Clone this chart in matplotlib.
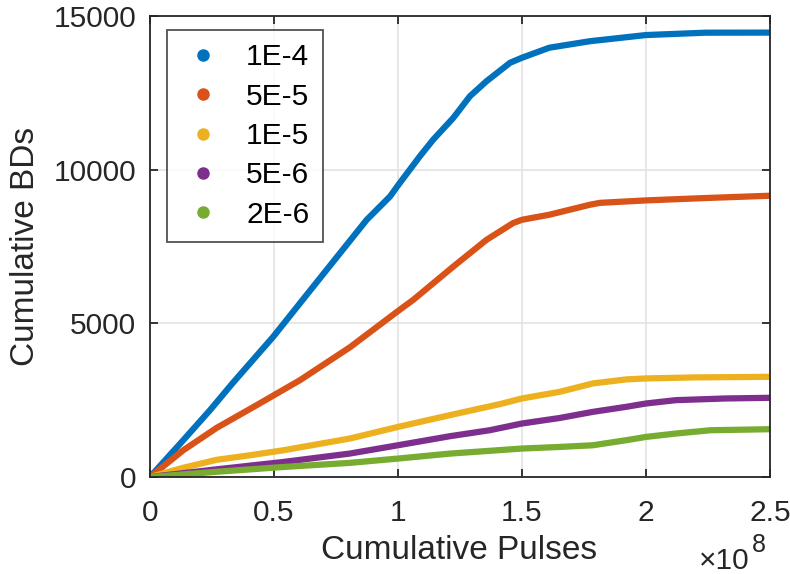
import matplotlib.pyplot as plt
import numpy as np
from matplotlib.lines import Line2D
from matplotlib.ticker import FuncFormatter

plt.rcParams['font.family'] = ['Liberation Sans', 'DejaVu Sans']

# cumulative pulses (x 1e8) and cumulative BDs
labels = ["1E-4", "5E-5", "1E-5", "5E-6", "2E-6"]
colors = ["#0072BD", "#D95319", "#EDB120", "#7E2F8E", "#77AC30"]

x_1e4 = [0, 0.134, 0.242, 0.336, 0.497, 0.632, 0.739, 0.874, 0.968, 1.007, 1.088, 1.142,
         1.223, 1.29, 1.357, 1.452, 1.5, 1.61, 1.774, 2.0, 2.24, 2.5]
y_1e4 = [0, 1196, 2175, 3080, 4565, 5930, 7010, 8370, 9130, 9565, 10434, 10978,
         11685, 12390, 12879, 13479, 13642, 13968, 14180, 14380, 14457, 14460]

x_5e5 = [0, 0.134, 0.269, 0.43, 0.605, 0.806, 1.0, 1.061, 1.223, 1.357, 1.464, 1.5,
         1.61, 1.774, 1.814, 2.0, 2.24, 2.5]
y_5e5 = [0, 870, 1600, 2337, 3152, 4220, 5400, 5761, 6847, 7718, 8262, 8370,
         8533, 8859, 8920, 9000, 9077, 9152]

x_1e5 = [0, 0.134, 0.269, 0.403, 0.538, 0.806, 1.0, 1.209, 1.41, 1.5, 1.652, 1.786,
         1.92, 2.0, 2.19, 2.5]
y_1e5 = [0, 300, 560, 707, 870, 1252, 1630, 2012, 2370, 2556, 2771, 3045,
         3175, 3207, 3240, 3260]

x_5e6 = [0, 0.269, 0.538, 0.806, 1.0, 1.209, 1.37, 1.5, 1.652, 1.786, 1.92, 2.0,
         2.12, 2.32, 2.5]
y_5e6 = [0, 250, 489, 763, 1033, 1327, 1522, 1741, 1920, 2120, 2283, 2392,
         2500, 2555, 2577]

x_2e6 = [0, 0.269, 0.538, 0.806, 1.0, 1.209, 1.5, 1.652, 1.786, 1.92, 2.0, 2.12,
         2.26, 2.5]
y_2e6 = [0, 170, 326, 460, 600, 761, 926, 978, 1033, 1197, 1304, 1414,
         1522, 1555]

xs = [x_1e4, x_5e5, x_1e5, x_5e6, x_2e6]
ys = [y_1e4, y_5e5, y_1e5, y_5e6, y_2e6]

fig = plt.figure(figsize=(7.9, 5.74), dpi=100)
# axes box: x 150..770 px, y 16..477 px
ax = fig.add_axes([150 / 790, (574 - 477) / 574, 620 / 790, 461 / 574])

for x, y, c in zip(xs, ys, colors):
    ax.plot(np.array(x) * 1e8, y, color=c, lw=4.5, solid_capstyle='round',
            solid_joinstyle='round')

ax.set_xlim(0, 2.5e8)
ax.set_ylim(0, 15000)
ax.set_xticks(np.arange(0, 2.51e8, 0.5e8))
ax.set_yticks([0, 5000, 10000, 15000])
ax.xaxis.set_major_formatter(FuncFormatter(lambda v, p: f"{v / 1e8:g}"))
ax.grid(True, color='#e3e3e3', lw=1.2)
ax.set_axisbelow(True)

dark = '#262626'
for s in ax.spines.values():
    s.set_color(dark)
    s.set_linewidth(1.3)
ax.tick_params(direction='in', length=6, width=1.3, colors=dark, labelsize=21.5,
               top=True, right=True)
ax.tick_params(axis='x', pad=16)
ax.tick_params(axis='y', pad=10)

ax.set_xlabel("Cumulative Pulses", fontsize=24, color=dark)
ax.set_ylabel("Cumulative BDs", fontsize=24, color=dark)
ax.xaxis.set_label_coords(0.498, -0.125)
ax.yaxis.set_label_coords(-0.175, 0.5)

# MATLAB-style exponent label at bottom right
fig.text(750 / 790, 5 / 574, "\u00d710", ha='right', va='baseline',
         fontsize=21.5, color=dark)
fig.text(752 / 790, 22 / 574, "8", ha='left', va='baseline',
         fontsize=18, color=dark)

handles = [Line2D([], [], ls='none', marker='o', ms=8, color=c) for c in colors]
leg = ax.legend(handles, labels, loc='upper left', fontsize=21.5, frameon=True,
                fancybox=False, edgecolor=dark, handletextpad=0.7, handlelength=1.5,
                labelspacing=0.38, borderpad=0.45, borderaxespad=0,
                bbox_to_anchor=((167 - 150) / 620, (477 - 30) / 461))
leg.get_frame().set_linewidth(1.3)

fig.savefig("out.png", dpi=100)
